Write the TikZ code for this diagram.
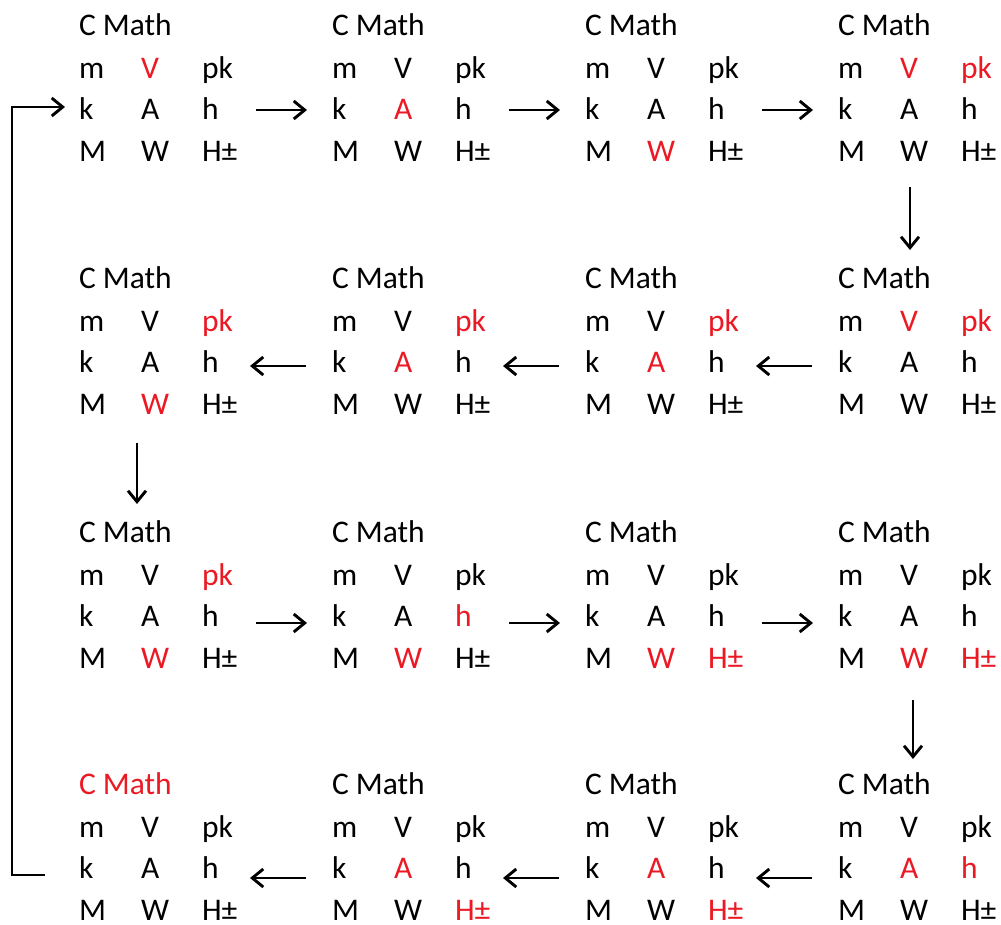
\documentclass[tikz,border=0pt]{standalone}
\usepackage{fontspec}
\setmainfont{Carlito}
\usetikzlibrary{arrows.meta}
\definecolor{hlred}{RGB}{235,25,35}
\tikzset{
  lbl/.style={anchor=base west,inner sep=0pt,outer sep=0pt,text=black,font=\fontsize{31.5}{36}\selectfont},
  hl/.style={text=hlred},
  itT/.style={},itm/.style={},itV/.style={},itpk/.style={},itk/.style={},
  itA/.style={},ith/.style={},itM/.style={},itW/.style={},itH/.style={},
  arr/.style={line width=2.9pt,-{Straight Barb[length=11pt,width=18pt]}}
}
\newcommand\blk[4]{%
  \begin{scope}
  \tikzset{#4}
  \node[lbl,itT] (#1-T) at (#2,#3) {C Math};
  \node[lbl,itm] (#1-m) at (#2,#3+43) {m};
  \node[lbl,itV] (#1-V) at (#2+62,#3+43) {V};
  \node[lbl,itpk] (#1-pk) at (#2+123,#3+43) {pk};
  \node[lbl,itk] (#1-k) at (#2,#3+84) {k};
  \node[lbl,itA] (#1-A) at (#2+62,#3+84) {A};
  \node[lbl,ith] (#1-h) at (#2+123,#3+84) {h};
  \node[lbl,itM] (#1-M) at (#2,#3+126) {M};
  \node[lbl,itW] (#1-W) at (#2+62,#3+126) {W};
  \node[lbl,itH] (#1-H) at (#2+123,#3+126) {H±};
  \end{scope}}
\begin{document}
\begin{tikzpicture}[x=1pt,y=-1pt]
\useasboundingbox (0,0) rectangle (1001,924);
% row 1
\blk{b11}{79}{35}{itV/.style=hl}
\blk{b12}{332}{35}{itA/.style=hl}
\blk{b13}{585}{35}{itW/.style=hl}
\blk{b14}{838}{35}{itV/.style=hl,itpk/.style=hl}
% row 2
\blk{b21}{79}{288}{itpk/.style=hl,itW/.style=hl}
\blk{b22}{332}{288}{itpk/.style=hl,itA/.style=hl}
\blk{b23}{585}{288}{itpk/.style=hl,itA/.style=hl}
\blk{b24}{838}{288}{itV/.style=hl,itpk/.style=hl}
% row 3
\blk{b31}{79}{542}{itpk/.style=hl,itW/.style=hl}
\blk{b32}{332}{542}{ith/.style=hl,itW/.style=hl}
\blk{b33}{585}{542}{itW/.style=hl,itH/.style=hl}
\blk{b34}{838}{542}{itW/.style=hl,itH/.style=hl}
% row 4
\blk{b41}{79}{794}{itT/.style=hl}
\blk{b42}{332}{794}{itA/.style=hl,itH/.style=hl}
\blk{b43}{585}{794}{itA/.style=hl,itH/.style=hl}
\blk{b44}{838}{794}{itA/.style=hl,ith/.style=hl}
% row 1 arrows
\draw[arr] ([xshift=54pt,yshift=9pt]b11-h.base west) -- ([xshift=-25pt,yshift=9pt]b12-k.base west);
\draw[arr] ([xshift=54pt,yshift=9pt]b12-h.base west) -- ([xshift=-25pt,yshift=9pt]b13-k.base west);
\draw[arr] ([xshift=54pt,yshift=9pt]b13-h.base west) -- ([xshift=-25pt,yshift=9pt]b14-k.base west);
\draw[arr] ([xshift=10pt,yshift=-26pt]b14-W.base west) -- ([xshift=72pt,yshift=38pt]b24-T.base west);
% row 2 arrows
\draw[arr] ([xshift=-26pt,yshift=6pt]b24-k.base west) -- ([xshift=48pt,yshift=6pt]b23-h.base west);
\draw[arr] ([xshift=-26pt,yshift=6pt]b23-k.base west) -- ([xshift=48pt,yshift=6pt]b22-h.base west);
\draw[arr] ([xshift=-26pt,yshift=6pt]b22-k.base west) -- ([xshift=48pt,yshift=6pt]b21-h.base west);
\draw[arr] ([xshift=-4pt,yshift=-29pt]b21-W.base west) -- ([xshift=58pt,yshift=38pt]b31-T.base west);
% row 3 arrows
\draw[arr] ([xshift=54pt,yshift=3pt]b31-h.base west) -- ([xshift=-25pt,yshift=3pt]b32-k.base west);
\draw[arr] ([xshift=54pt,yshift=3pt]b32-h.base west) -- ([xshift=-25pt,yshift=3pt]b33-k.base west);
\draw[arr] ([xshift=54pt,yshift=3pt]b33-h.base west) -- ([xshift=-25pt,yshift=3pt]b34-k.base west);
\draw[arr] ([xshift=13pt,yshift=-32pt]b34-W.base west) -- ([xshift=75pt,yshift=35pt]b44-T.base west);
% row 4 arrows
\draw[arr] ([xshift=-26pt,yshift=0pt]b44-k.base west) -- ([xshift=48pt,yshift=0pt]b43-h.base west);
\draw[arr] ([xshift=-26pt,yshift=0pt]b43-k.base west) -- ([xshift=48pt,yshift=0pt]b42-h.base west);
\draw[arr] ([xshift=-26pt,yshift=0pt]b42-k.base west) -- ([xshift=48pt,yshift=0pt]b41-h.base west);
% loop back
\coordinate (lpB) at ([xshift=-34pt,yshift=3pt]b41-k.base west);
\coordinate (lpT) at ([xshift=-14pt,yshift=12pt]b11-k.base west);
\draw[arr] (lpB) -- ++(-33,0) |- (lpT);
\end{tikzpicture}
\end{document}
